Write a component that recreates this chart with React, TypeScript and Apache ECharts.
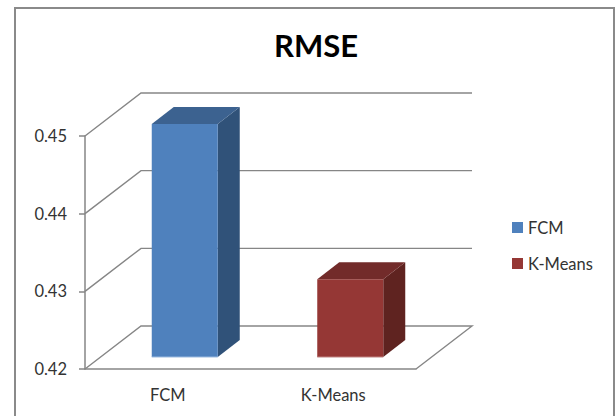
import React, { useEffect, useRef } from "react";
import * as echarts from "echarts";

const categories = ["FCM", "K-Means"];
const fcmValues = [[0, 0.45]];
const kMeansValues = [[1, 0.43]];
const axisTicks = [0.42, 0.43, 0.44, 0.45];

const FONT = "Lato, 'Open Sans', sans-serif";
const AXIS_COLOR = "#868686";
const TEXT_COLOR = "#333333";

// Oblique projection used for the fake 3D walls and bars, in pixels.
const WALL_DX = 56;
const WALL_DY = -43;
const BAR_DX = 22;
const BAR_DY = -17;
const BAR_WIDTH = 66;
const BAR_SHIFT_X = 17;
const BAR_SHIFT_Y = -12;

const wallItem = (params: any, api: any) => {
  const cs = params.coordSys;
  const value = api.value(0);
  const [, y] = api.coord([0, value]);
  const left = cs.x;
  const right = cs.x + cs.width;
  const lineStyle = { stroke: AXIS_COLOR, lineWidth: 1.4, fill: "none" };
  const points = [
    [left, y],
    [left + WALL_DX, y + WALL_DY],
    [right + WALL_DX, y + WALL_DY],
  ];
  if (value === axisTicks[0]) points.push([right, y]);
  return { type: "polyline", shape: { points }, style: lineStyle, silent: true };
};

const barItem = (front: string, top: string, side: string, edge: string) => (params: any, api: any) => {
  const [cx, yTop] = api.coord([api.value(0), api.value(1)]);
  const [, yBase] = api.coord([api.value(0), axisTicks[0]]);
  const x0 = cx - BAR_WIDTH / 2 + BAR_SHIFT_X;
  const x1 = x0 + BAR_WIDTH;
  const y0 = yTop + BAR_SHIFT_Y;
  const y1 = yBase + BAR_SHIFT_Y;
  return {
    type: "group",
    children: [
      {
        type: "polygon",
        shape: { points: [[x1, y0], [x1 + BAR_DX, y0 + BAR_DY], [x1 + BAR_DX, y1 + BAR_DY], [x1, y1]] },
        style: { fill: side },
      },
      {
        type: "polygon",
        shape: { points: [[x0, y0], [x0 + BAR_DX, y0 + BAR_DY], [x1 + BAR_DX, y0 + BAR_DY], [x1, y0]] },
        style: { fill: top },
      },
      {
        type: "rect",
        shape: { x: x0, y: y0, width: BAR_WIDTH, height: y1 - y0 },
        style: { fill: front },
      },
      {
        type: "line",
        shape: { x1: x0, y1: y1, x2: x1, y2: y1 },
        style: { stroke: edge, lineWidth: 1 },
      },
    ],
  };
};

export default function App() {
  const ref = useRef<HTMLDivElement>(null);

  useEffect(() => {
    const chart = echarts.init(ref.current!, undefined, { renderer: "svg" });
    chart.setOption({
      animation: false,
      backgroundColor: "#ffffff",
      title: {
        text: "RMSE",
        left: 311,
        top: 24,
        textAlign: "center",
        textStyle: { fontFamily: FONT, fontSize: 31, fontWeight: "bold", color: "#000000" },
      },
      grid: { left: 85, top: 136, width: 331, height: 233 },
      legend: {
        orient: "vertical",
        left: 512,
        top: 219,
        padding: 0,
        itemWidth: 11,
        itemHeight: 11,
        itemGap: 19,
        icon: "rect",
        data: ["FCM", "K-Means"],
        textStyle: { fontFamily: FONT, fontSize: 16.5, color: TEXT_COLOR },
      },
      xAxis: {
        type: "category",
        data: categories,
        axisLine: { lineStyle: { color: AXIS_COLOR, width: 1.5 } },
        axisTick: { length: 6, lineStyle: { color: AXIS_COLOR, width: 1.5 } },
        axisLabel: { fontFamily: FONT, fontSize: 16.5, color: TEXT_COLOR, margin: 17 },
      },
      yAxis: {
        type: "value",
        min: 0.42,
        max: 0.45,
        interval: 0.01,
        axisLine: { show: true, lineStyle: { color: AXIS_COLOR, width: 1.5 } },
        axisTick: { show: true, length: 6, lineStyle: { color: AXIS_COLOR, width: 1.5 } },
        splitLine: { show: false },
        axisLabel: {
          fontFamily: FONT,
          fontSize: 16.5,
          color: TEXT_COLOR,
          margin: 18,
          padding: [4, 0, 0, 0],
          formatter: (v: number) => v.toFixed(2),
        },
      },
      series: [
        {
          name: "walls",
          type: "custom",
          renderItem: wallItem,
          encode: { y: 0 },
          data: axisTicks.map((v) => [v]),
          silent: true,
          z: 1,
        },
        {
          name: "FCM",
          type: "custom",
          renderItem: barItem("#4F81BD", "#3C6290", "#305279", "#9DBBE0"),
          encode: { x: 0, y: 1 },
          data: fcmValues,
          itemStyle: { color: "#4F81BD" },
          z: 2,
        },
        {
          name: "K-Means",
          type: "custom",
          renderItem: barItem("#953735", "#722B2A", "#5F2320", "#C08583"),
          encode: { x: 0, y: 1 },
          data: kMeansValues,
          itemStyle: { color: "#953735" },
          z: 2,
        },
      ],
      graphic: [
        {
          type: "polyline",
          shape: { points: [[15, 416], [15, 8], [614, 8], [614, 416]] },
          style: { stroke: "#8a8a8a", lineWidth: 2, fill: "none" },
          silent: true,
        },
      ],
    });
    return () => chart.dispose();
  }, []);

  return (
    <div
      ref={ref}
      style={{ position: "absolute", left: 0, top: 0, width: 615, height: 416, background: "#fff" }}
    />
  );
}
